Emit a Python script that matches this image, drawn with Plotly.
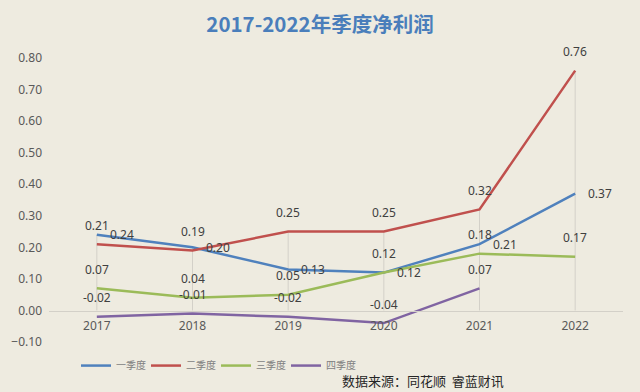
import plotly.graph_objects as go

years = ["2017", "2018", "2019", "2020", "2021", "2022"]
q1 = [0.24, 0.20, 0.13, 0.12, 0.21, 0.37]
q2 = [0.21, 0.19, 0.25, 0.25, 0.32, 0.76]
q3 = [0.07, 0.04, 0.05, 0.12, 0.18, 0.17]
q4 = [-0.02, -0.01, -0.02, -0.04, 0.07, None]
names = ["一季度", "二季度", "三季度", "四季度"]
colors = ["#4F81BD", "#C0504D", "#9BBB59", "#8064A2"]
series = [q1, q2, q3, q4]

fig = go.Figure()

# drop lines from highest point down to the axis
dx, dy = [], []
for i, yr in enumerate(years):
    vals = [s[i] for s in series if s[i] is not None]
    dx += [yr, yr, None]
    dy += [max(vals), 0, None]
fig.add_trace(go.Scatter(x=dx, y=dy, mode="lines", line=dict(color="#D3D0C8", width=1),
                         showlegend=False, hoverinfo="skip"))

for name, s, c in zip(names, series, colors):
    fig.add_trace(go.Scatter(x=years, y=s, name=name, mode="lines",
                             line=dict(color=c, width=2.5)))

# invisible spacer entry so the last legend label is not clipped
fig.add_trace(go.Scatter(x=[None], y=[None], name=" ", mode="lines",
                         line=dict(color="rgba(0,0,0,0)", width=0), hoverinfo="skip"))

ann = []
for k, (s, c) in enumerate(zip(series, colors)):
    for i, v in enumerate(s):
        if v is None:
            continue
        if k == 0:
            xs, ys = 25, 0
        else:
            xs, ys = 0, 19
        ann.append(dict(x=i, y=v, xref="x", yref="y", text=f"{v:.2f}", showarrow=False,
                        xshift=xs, yshift=ys,
                        font=dict(size=12, color="#404040", family="Noto Sans")))

ann.append(dict(xref="paper", yref="paper", x=(506 - 49) / 574, y=-0.135, xanchor="right", yanchor="middle",
                text="数据来源：同花顺  睿蓝财讯", showarrow=False,
                font=dict(size=13, color="#262626", family="Noto Sans CJK SC")))

fig.update_layout(
    width=640, height=392,
    paper_bgcolor="#EEEBE0", plot_bgcolor="#EEEBE0",
    margin=dict(l=49, r=17, t=58, b=49.5, autoexpand=False),
    title=dict(text="<b>2017-2022年季度净利润</b>", x=0.5, xanchor="center", y=1 - 25 / 392,
               yanchor="middle", font=dict(size=20.5, color="#4A7EBB", family="Noto Sans CJK SC")),
    xaxis=dict(type="category", range=[-0.5, 5.5], showgrid=False, showline=True,
               linecolor="#D3D0C8", linewidth=1, anchor="free", position=(342.5 - 311) / 284.5,
               ticks="", ticklabelstandoff=4,
               tickfont=dict(size=12, color="#595959", family="Noto Sans"), fixedrange=True),
    yaxis=dict(range=[-0.10, 0.80], dtick=0.1, tickformat=".2f", showgrid=False, zeroline=False,
               showline=False, ticks="", ticklabelstandoff=6,
               tickfont=dict(size=12, color="#595959", family="Noto Sans")),
    legend=dict(orientation="h", x=(76 - 49) / 574, xanchor="left", y=-0.083, yanchor="middle",
                font=dict(size=10, color="#7F7F7F", family="Noto Sans CJK SC"),
                bgcolor="rgba(0,0,0,0)", itemwidth=30, tracegroupgap=0,
                entrywidth=25, entrywidthmode="pixels"),
    annotations=ann,
    showlegend=True,
)

fig.write_html("out.html", config={"displayModeBar": False},
               post_script="document.body.style.margin='0';document.body.style.overflow='hidden';")
